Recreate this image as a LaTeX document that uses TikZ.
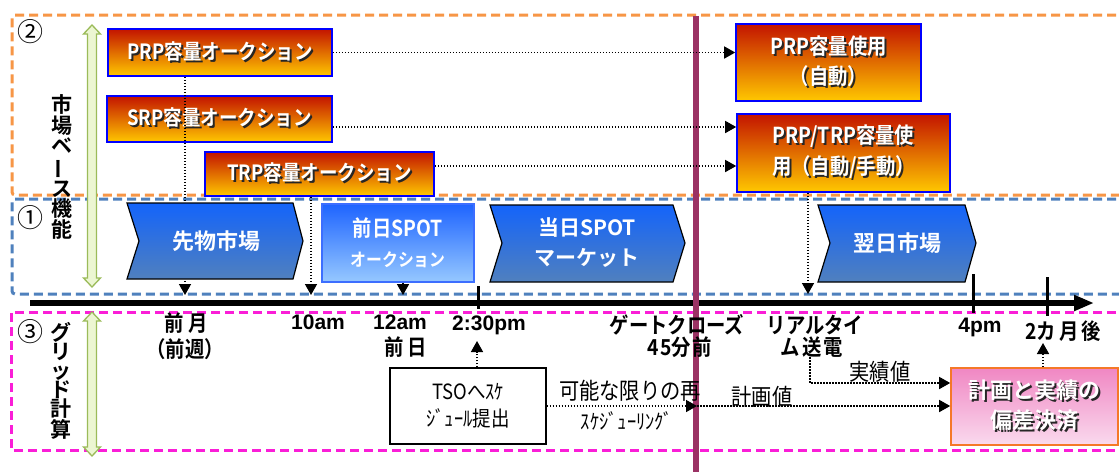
\documentclass[tikz,border=0pt]{standalone}
\usepackage{fontspec}
\usetikzlibrary{arrows.meta}
\newfontfamily\jp{Noto Sans CJK JP}[BoldFont={Noto Sans CJK JP Bold}]
\newfontfamily\jpc{Noto Sans CJK JP}[BoldFont={Noto Sans CJK JP Bold},FakeStretch=0.88]
\newfontfamily\ar{Liberation Sans}
\definecolor{dorange}{RGB}{247,150,70}
\definecolor{dblue}{RGB}{79,129,189}
\definecolor{dmag}{RGB}{250,30,215}
\definecolor{ored}{RGB}{195,20,0}
\definecolor{oorg}{RGB}{230,150,0}
\definecolor{oyel}{RGB}{255,200,0}
\definecolor{cbtop}{RGB}{20,100,250}
\definecolor{cbbot}{RGB}{80,128,190}
\definecolor{sptop}{RGB}{30,100,255}
\definecolor{spbot}{RGB}{150,200,255}
\definecolor{spbd}{RGB}{60,110,255}
\definecolor{pktop}{RGB}{240,135,195}
\definecolor{pkbot}{RGB}{250,218,238}
\definecolor{pkbd}{RGB}{245,120,40}
\definecolor{gcline}{RGB}{155,50,100}
\definecolor{grfill}{RGB}{236,246,210}
\definecolor{grdraw}{RGB}{155,187,89}
\newcommand\sh[1]{{\rlap{\hspace{2pt}\raisebox{-2pt}{\color{black!85}#1}}\color{white}#1}}
\begin{document}
\begin{tikzpicture}[x=1pt,y=-1pt,
  odash/.style={draw=dorange,line width=3pt,dash pattern=on 9pt off 5pt,rounded corners=3pt},
  bdash/.style={draw=dblue,line width=3pt,dash pattern=on 9pt off 5pt,rounded corners=3pt},
  mdash/.style={draw=dmag,line width=3pt,dash pattern=on 9pt off 5pt},
  dotline/.style={line width=1.5pt,dash pattern=on 1.5pt off 1.5pt},
  tipend/.style={-{Triangle[length=11pt,width=12pt]}},
  obox/.style={draw=blue,line width=1.6pt,top color=ored,middle color=oorg,bottom color=oyel,align=center,inner sep=0pt,font=\jpc\bfseries\fontsize{21}{30}\selectfont},
  chev/.style={draw=black,line width=1.2pt,top color=cbtop,bottom color=cbbot},
  chevtext/.style={text=white,align=center,font=\jp\bfseries\fontsize{21}{30}\selectfont},
  lbl/.style={font=\jpc\bfseries\fontsize{22}{23}\selectfont,inner sep=0pt},
  tlbl/.style={font=\ar\bfseries\fontsize{21}{23}\selectfont,inner sep=0pt},
  rlbl/.style={font=\jpc\fontsize{23}{24}\selectfont,inner sep=0pt},
  num/.style={font=\jp\fontsize{26}{26}\selectfont,inner sep=0pt},
  vtext/.style={font=\jp\bfseries\fontsize{21}{20.5}\selectfont,align=center,inner sep=0pt},
  garrow/.style={draw=grdraw,fill=grfill,line width=1.3pt,line join=miter},
  tick/.style={line width=3pt}
]
\useasboundingbox (0,0) rectangle (1119,472);
\fill[white] (0,0) rectangle (1119,472);
% dashed regions
\draw[odash] (1130,15) -- (12,15) -- (12,195) -- (1130,195);
\draw[bdash] (1130,199) -- (12,199) -- (12,294) -- (1130,294);
\draw[mdash] (1130,312) -- (11,312) -- (11,450) -- (1130,450);
% timeline
\coordinate (tl0) at (30,303);
\coordinate (tl1) at (1094,303);
\draw[line width=6pt,-{Triangle[length=20pt,width=15pt]}] (tl0) -- (tl1);
\draw[tick] (478,286) -- (478,309);
\draw[tick] (973,274) -- (973,313);
\draw[tick] (1047,277) -- (1047,316);
% gate closure line
\draw[draw=gcline,line width=6pt] (696,16) -- (696,472);
% green double arrows
\draw[garrow] (92,25) -- (100.5,34) -- (96.5,34) -- (96.5,278) -- (100.5,278) -- (92,287) -- (83.5,278) -- (87.5,278) -- (87.5,34) -- (83.5,34) -- cycle;
\draw[garrow] (92,312) -- (100.5,321) -- (96.5,321) -- (96.5,447) -- (100.5,447) -- (92,456) -- (83.5,447) -- (87.5,447) -- (87.5,321) -- (83.5,321) -- cycle;
% circled numbers and vertical titles
\node[num] (n2) at (30,32) {②};
\node[num] (n1) at (30,218) {①};
\node[num] (n3) at (30,332) {③};
\node[vtext] (vt1) at (62,167) {市\\場\\ベ\\\rotatebox[origin=c]{90}{ー}\\ス\\機\\能};
\node[vtext,font=\jp\bfseries\fontsize{21}{19}\selectfont] (vt2) at (61,381) {グ\\リ\\ッ\\ド\\計\\算};
% timeline marks
\coordinate (m1) at (185,295);
\coordinate (m2) at (311,295);
\coordinate (m3) at (403,295);
\coordinate (m4) at (808,294);
% capacity auction boxes
\node[obox,minimum width=224pt,minimum height=47pt] (prpA) at (220,52.5) {\sh{PRP容量オークション}};
\node[obox,minimum width=225pt,minimum height=46pt] (srpA) at (219.5,119) {\sh{SRP容量オークション}};
\node[obox,minimum width=229pt,minimum height=44pt] (trpA) at (319.5,174) {\sh{TRP容量オークション}};
\node[obox,minimum width=185pt,minimum height=77pt,font=\jpc\bfseries\fontsize{22}{30}\selectfont] (prpU) at (828.5,62.5) {\sh{PRP容量使用}\\\sh{（自動）}};
\node[obox,minimum width=213pt,minimum height=78pt,font=\jpc\bfseries\fontsize{22}{31}\selectfont] (prptU) at (843.5,153) {\sh{PRP/TRP容量使}\\\sh{用（自動/手動）}};
% dotted connectors behind market shapes
\draw[dotline,tipend] (prpA.south -| m1) -- (m1);
\draw[dotline,tipend] (trpA.south -| m2) -- (m2);
\draw[dotline,tipend] (prptU.south -| m4) -- (m4);
% market chevrons
\path[chev] (127,203) -- (293,203) -- (303,241) -- (293,279) -- (127,279) -- (139,241) -- cycle;
\node[chevtext,font=\jp\bfseries\fontsize{22}{30}\selectfont] (fut) at (216,241) {先物市場};
\node[draw=spbd,line width=1.4pt,top color=sptop,bottom color=spbot,minimum width=152pt,minimum height=78pt,inner sep=0pt,text=white,align=center,font=\jpc\bfseries\fontsize{22}{30}\selectfont] (spot) at (398,243) {前日SPOT\\{\fontsize{18}{30}\selectfont オークション}};
\path[chev] (490,205) -- (673,205) -- (685,243) -- (673,282) -- (490,282) -- (502,243) -- cycle;
\node[chevtext] (intra) at (587,243) {当日SPOT\\マーケット};
\path[chev] (818,205) -- (965,205) -- (976,243) -- (965,282) -- (818,282) -- (830,243) -- cycle;
\node[chevtext,font=\jp\bfseries\fontsize{22}{30}\selectfont] (nextd) at (897,243) {翌日市場};
\draw[dotline,tipend] (spot.south -| m3) -- (m3);
% horizontal dotted arrows to usage boxes
\draw[dotline,tipend] (prpA.east) -- (prpA.east -| prpU.west);
\draw[dotline,tipend] ([yshift=-8pt]srpA.east) -- ([yshift=-8pt]srpA.east -| prptU.west);
\draw[dotline,tipend] ([yshift=8pt]trpA.east) -- ([yshift=8pt]trpA.east -| prptU.west);
% time labels
\node[lbl] (lm1) at (186,323) {前\hspace{5pt}月};
\node[lbl] (lm2) at (185,349) {（前週）};
\node[tlbl] (l10) at (318,322) {10am};
\node[tlbl] (l12) at (400,322) {12am};
\node[lbl] (l12b) at (406,347) {前\hspace{4pt}日};
\node[tlbl] (l230) at (489,325) {2:30pm};
\node[lbl] (lgc1) at (677,325) {ゲートクローズ};
\node[lbl] (lgc2) at (680,347) {4\hspace{1pt}5分\hspace{2pt}前};
\node[lbl] (lrt1) at (815,325) {リアルタイ};
\node[lbl] (lrt2) at (812,347) {ム\hspace{2pt}送\hspace{2pt}電};
\node[tlbl] (l4) at (980,327) {4pm};
\node[lbl] (l2m) at (1063,331) {2カ\hspace{3pt}月\hspace{3pt}後};
% grid calculation part
\node[draw=black,line width=1.3pt,minimum width=156pt,minimum height=76pt,inner sep=0pt,align=center,font=\jpc\fontsize{21}{27}\selectfont] (tso) at (468,406) {TSOへｽｹ\\ｼﾞｭｰﾙ提出};
\node[draw=pkbd,line width=1.6pt,top color=pktop,bottom color=pkbot,minimum width=167pt,minimum height=77pt,inner sep=0pt,align=center,font=\jp\bfseries\fontsize{22}{30}\selectfont] (kei) at (1034.5,406.5) {\sh{計画と実績の}\\\sh{偏差決済}};
\coordinate (a230) at (477,341);
\draw[dotline,tipend] (tso.north -| a230) -- (a230);
\coordinate (gcR) at (697,406);
\draw[dotline,tipend] (tso.east |- gcR) -- (gcR);
\draw[dotline,tipend] (gcR) -- (gcR -| kei.west);
\node[rlbl] (resch1) at (630,391) {可能な限りの再};
\node[rlbl,font=\jpc\fontsize{21}{22}\selectfont] (resch2) at (627,421) {ｽｹｼﾞｭｰﾘﾝｸﾞ};
\node[rlbl] (plan) at (762,397) {計画値};
\coordinate (jt) at (810,357);
\draw[dotline,tipend] (jt) |- ([yshift=23.5pt]kei.west);
\node[rlbl] (act) at (880,372) {実績値};
\coordinate (a2m) at (1043,343);
\draw[dotline,tipend] (kei.north -| a2m) -- (a2m);
\end{tikzpicture}
\end{document}
